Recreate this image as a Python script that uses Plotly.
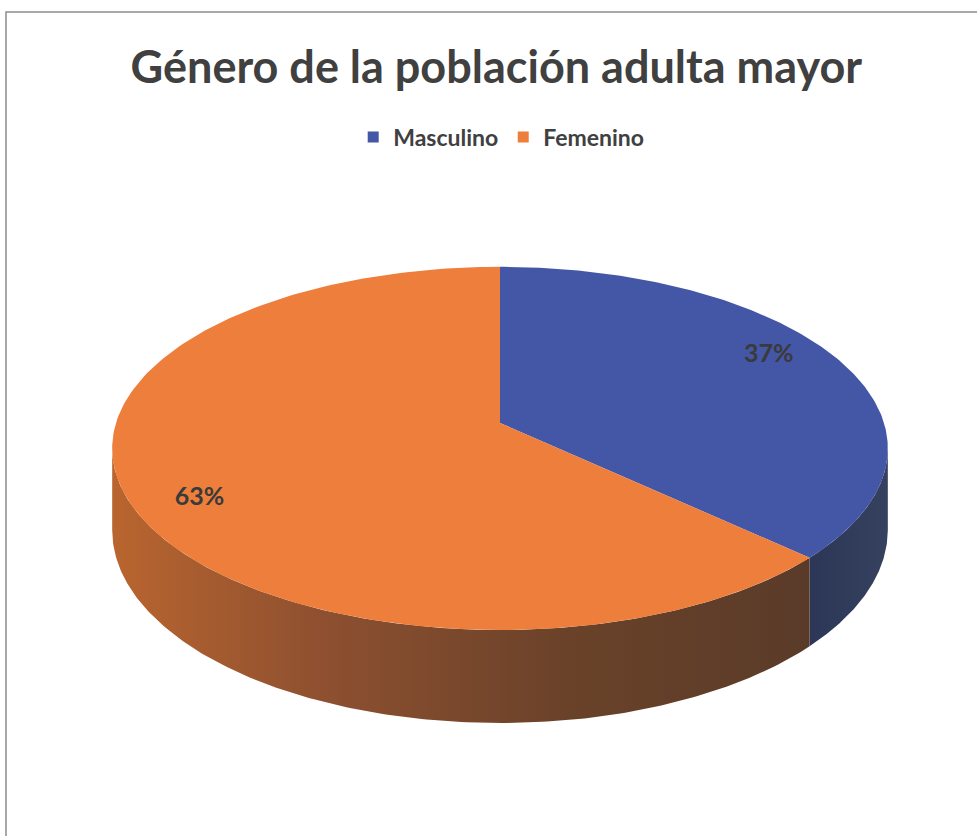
import numpy as np
import plotly.graph_objects as go

# Data
categories = ["Masculino", "Femenino"]
shares = [37, 63]
top_colors = ["#4456a6", "#ee7e3c"]

# Side-wall shading per slice (horizontal gradient stops)
wall_scales = [
    [[0.0, "#2c3757"], [1.0, "#35415f"]],
    [[0.0, "#b9652f"], [0.3, "#8e5030"], [0.65, "#6a4229"], [1.0, "#5a3b29"]],
]

# Projection of the tilted disc onto the page (axis units = pixels)
CX, CY = 500.0, 423.0      # pie centre
RX, RY = 384.0, 178.0      # radius across / radius in depth
K = 0.14                   # perspective foreshortening of the far side
DEPTH = 80.0               # thickness of the disc
LABEL_R = 0.84             # label distance from centre (fraction of radius)
LABEL_TURN = -5.0          # label angle offset from the slice middle


def project(phi_deg, r=1.0):
    """Angle measured clockwise from 12 o'clock -> page point on the top face."""
    phi = np.radians(phi_deg)
    u, v = r * np.sin(phi), r * np.cos(phi)
    den = 1.0 + K * v
    return CX + RX * u / den, CY - RY * v / den, den


def arc(a0, a1, n=200):
    a = np.linspace(a0, a1, n)
    x, y, den = project(a)
    return x, y, den


total = float(sum(shares))
bounds = np.concatenate([[0.0], np.cumsum(shares) / total * 360.0])

# Front silhouette where the side wall becomes visible
edge = np.degrees(np.arccos(-K))
vis_lo, vis_hi = edge, 360.0 - edge

fig = go.Figure()

# Side walls (drawn first, under the top face)
for i, cat in enumerate(categories):
    a0, a1 = max(bounds[i], vis_lo), min(bounds[i + 1], vis_hi)
    if a1 <= a0:
        continue
    x, y, den = arc(a0, a1)
    yb = y + DEPTH / den
    xs = np.concatenate([x, x[::-1], x[:1]])
    ys = np.concatenate([y, yb[::-1], y[:1]])
    fig.add_trace(go.Scatter(
        x=xs, y=ys, mode="lines", fill="toself",
        line=dict(width=0, color=wall_scales[i][0][1]),
        fillgradient=dict(type="horizontal", colorscale=wall_scales[i]),
        hoverinfo="skip", showlegend=False,
    ))

# Top face slices
for i, cat in enumerate(categories):
    x, y, _ = arc(bounds[i], bounds[i + 1])
    xs = np.concatenate([[CX], x, [CX]])
    ys = np.concatenate([[CY], y, [CY]])
    fig.add_trace(go.Scatter(
        x=xs, y=ys, mode="lines", fill="toself",
        fillcolor=top_colors[i], line=dict(width=0, color=top_colors[i]),
        name=cat, hoverinfo="name", showlegend=False,
    ))

# Percentage labels on the slices
lx, ly, lt = [], [], []
for i, cat in enumerate(categories):
    mid = (bounds[i] + bounds[i + 1]) / 2.0 + LABEL_TURN
    x, y, _ = project(mid, r=LABEL_R)
    lx.append(float(x))
    ly.append(float(y))
    lt.append(f"{shares[i] / total * 100:.0f}%")
fig.add_trace(go.Scatter(
    x=lx, y=ly, mode="text", text=lt,
    textfont=dict(family="Lato", size=25, color="#3a3a3a", weight="bold"),
    hoverinfo="skip", showlegend=False,
))

# Legend entries
for i, cat in enumerate(categories):
    fig.add_trace(go.Scatter(
        x=[None], y=[None], mode="markers", name=cat,
        marker=dict(symbol="square", size=11, color=top_colors[i]),
    ))

fig.update_layout(
    width=977, height=836,
    margin=dict(l=0, r=0, t=0, b=0),
    paper_bgcolor="white", plot_bgcolor="white",
    title=dict(
        text="Género de la población adulta mayor",
        x=0.508, xanchor="center", y=1 - 67 / 836, yanchor="middle",
        font=dict(family="Lato", size=45, color="#404040", weight="bold"),
    ),
    legend=dict(
        orientation="h", x=0.513, xanchor="center",
        y=1 - 137 / 836, yanchor="middle",
        font=dict(family="Lato", size=23, color="#404040", weight="bold"),
        itemwidth=30, bgcolor="rgba(0,0,0,0)",
    ),
    xaxis=dict(range=[0, 977], visible=False, fixedrange=True),
    yaxis=dict(range=[836, 0], visible=False, fixedrange=True),
    shapes=[dict(
        type="rect", xref="paper", yref="paper",
        x0=6 / 977, x1=1.02, y0=-0.02, y1=1 - 12 / 836,
        line=dict(color="#8c8c8c", width=1.5), fillcolor="rgba(0,0,0,0)",
        layer="below",
    )],
)

fig.write_html("out.html")
